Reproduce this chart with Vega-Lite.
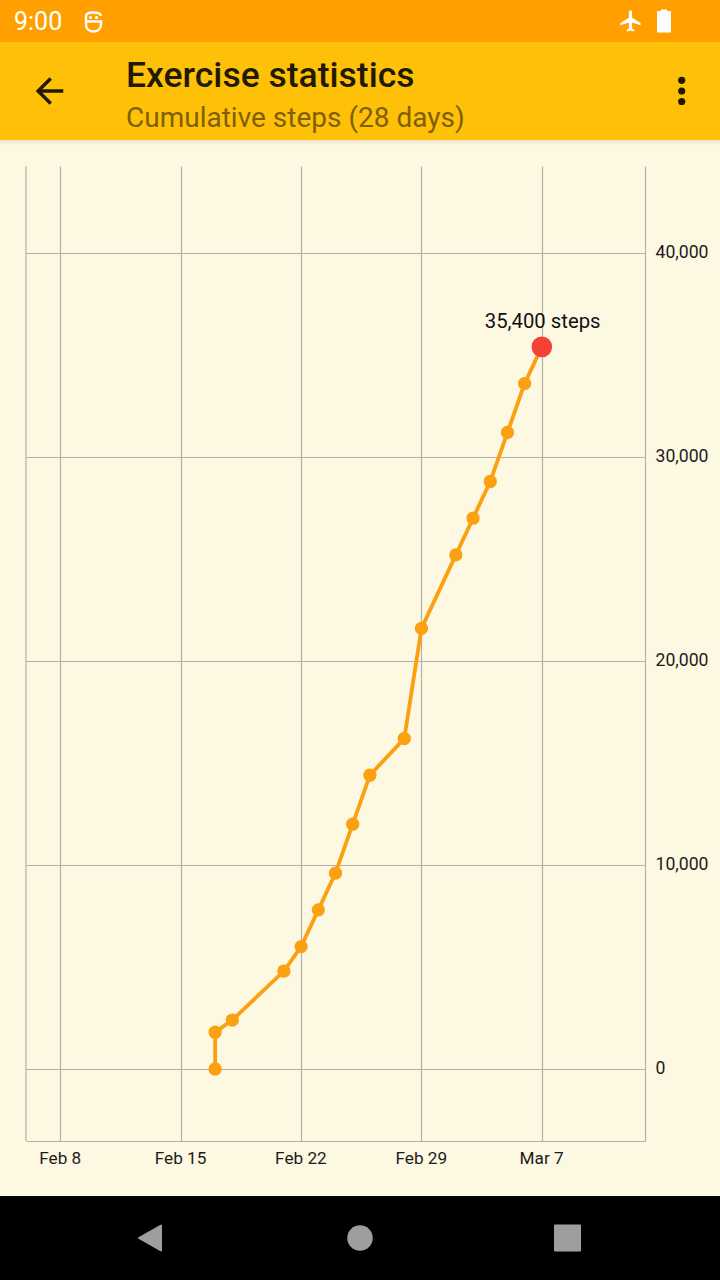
{"$schema":"https://vega.github.io/schema/vega-lite/v6.json","width":619,"height":975,"autosize":"none","padding":{"left":26,"top":166,"right":75,"bottom":139},"background":"#FDF8E1","title":{"text":"Exercise statistics","subtitle":"Cumulative steps (28 days)","anchor":"start","frame":"group","dx":100,"offset":0,"dy":133,"font":"Roboto","fontSize":35.5,"fontWeight":500,"color":"#211902","subtitleFont":"Roboto","subtitleFontSize":28,"subtitleFontWeight":400,"subtitleColor":"#7E5F05","subtitlePadding":11},"config":{"view":{"stroke":null}},"data":{"values":[{"date":"2016-02-17","steps":0},{"date":"2016-02-17","steps":1800},{"date":"2016-02-18","steps":2400},{"date":"2016-02-21","steps":4800},{"date":"2016-02-22","steps":6000},{"date":"2016-02-23","steps":7800},{"date":"2016-02-24","steps":9600},{"date":"2016-02-25","steps":12000},{"date":"2016-02-26","steps":14400},{"date":"2016-02-28","steps":16200},{"date":"2016-02-29","steps":21600},{"date":"2016-03-02","steps":25200},{"date":"2016-03-03","steps":27000},{"date":"2016-03-04","steps":28800},{"date":"2016-03-05","steps":31200},{"date":"2016-03-06","steps":33600},{"date":"2016-03-07","steps":35400,"label":"35,400 steps"}]},"resolve":{"scale":{"x":"independent","y":"independent"}},"layer":[{"data":{"values":[{"part":"chrome"}]},"encoding":{"x":{"datum":0,"type":"quantitative","scale":{"domain":[26,645],"nice":false,"zero":false},"axis":null},"y":{"datum":0,"type":"quantitative","scale":{"domain":[1141,166],"nice":false,"zero":false},"axis":null}},"layer":[{"mark":{"type":"rect","color":"#FFA000","clip":false},"encoding":{"x":{"datum":0,"type":"quantitative"},"x2":{"datum":720},"y":{"datum":0,"type":"quantitative"},"y2":{"datum":42}}},{"mark":{"type":"rect","color":"#FFC107","clip":false},"encoding":{"x":{"datum":0,"type":"quantitative"},"x2":{"datum":720},"y":{"datum":42,"type":"quantitative"},"y2":{"datum":140}}},{"mark":{"type":"rect","clip":false,"color":{"gradient":"linear","x1":0,"y1":0,"x2":0,"y2":1,"stops":[{"offset":0,"color":"#E8E0C8"},{"offset":1,"color":"#FDF8E1"}]}},"encoding":{"x":{"datum":0,"type":"quantitative"},"x2":{"datum":720},"y":{"datum":140,"type":"quantitative"},"y2":{"datum":145}}},{"mark":{"type":"rect","color":"#000000","clip":false},"encoding":{"x":{"datum":0,"type":"quantitative"},"x2":{"datum":720},"y":{"datum":1196,"type":"quantitative"},"y2":{"datum":1280}}},{"mark":{"type":"text","text":"9:00","font":"Roboto","fontSize":25,"align":"left","baseline":"alphabetic","color":"#FFFFFF","clip":false},"encoding":{"x":{"datum":14,"type":"quantitative"},"y":{"datum":30,"type":"quantitative"}}},{"mark":{"type":"point","filled":false,"opacity":1,"clip":false,"stroke":"#FFFFFF","strokeWidth":2.4,"size":4,"shape":"M-7.5 -3.5V-6C-7.5 -8.5 -4 -9.5 0 -9.5C4 -9.5 7.5 -8.5 7.5 -6M-7.5 -0.5H7.5V2C7.5 7 4 9.5 0 9.5C-4 9.5 -7.5 7 -7.5 2V-3.5"},"encoding":{"x":{"datum":93.5,"type":"quantitative"},"y":{"datum":22,"type":"quantitative"}}},{"mark":{"type":"point","filled":true,"opacity":1,"clip":false,"color":"#FFFFFF","size":4,"shape":"M-4.5 -4.5a1.5 1.5 0 1 0 3 0a1.5 1.5 0 1 0 -3 0ZM1.5 -4.5a1.5 1.5 0 1 0 3 0a1.5 1.5 0 1 0 -3 0Z"},"encoding":{"x":{"datum":93.5,"type":"quantitative"},"y":{"datum":22,"type":"quantitative"}}},{"mark":{"type":"point","filled":true,"opacity":1,"clip":false,"color":"#FFFFFF","size":4.5,"shape":"M9.5 4v-2l-8-5V-8.5c0-.83-.67-1.5-1.5-1.5S-1.5 -9.33 -1.5 -8.5V-3l-8 5v2l8-2.5V7l-2 1.5V10l3.5-1 3.5 1V8.5L1.5 7V1.5l8 2.5z"},"encoding":{"x":{"datum":630.5,"type":"quantitative"},"y":{"datum":21,"type":"quantitative"}}},{"mark":{"type":"point","filled":true,"opacity":1,"clip":false,"color":"#FFFFFF","size":4,"shape":"M-3 -11.5H3V-10H7V11.5H-7V-10H-3Z"},"encoding":{"x":{"datum":664,"type":"quantitative"},"y":{"datum":21,"type":"quantitative"}}},{"mark":{"type":"point","filled":true,"opacity":1,"clip":false,"color":"#211902","size":11.9,"shape":"M8 -1H-4.17l5.59-5.59L0 -8l-8 8 8 8 1.41-1.41L-4.17 1H8v-2z"},"encoding":{"x":{"datum":49.5,"type":"quantitative"},"y":{"datum":91,"type":"quantitative"}}},{"mark":{"type":"point","filled":true,"opacity":1,"clip":false,"color":"#211902","size":52,"shape":"circle"},"encoding":{"x":{"datum":681.7,"type":"quantitative"},"y":{"datum":80.3,"type":"quantitative"}}},{"mark":{"type":"point","filled":true,"opacity":1,"clip":false,"color":"#211902","size":52,"shape":"circle"},"encoding":{"x":{"datum":681.7,"type":"quantitative"},"y":{"datum":91,"type":"quantitative"}}},{"mark":{"type":"point","filled":true,"opacity":1,"clip":false,"color":"#211902","size":52,"shape":"circle"},"encoding":{"x":{"datum":681.7,"type":"quantitative"},"y":{"datum":101.5,"type":"quantitative"}}},{"mark":{"type":"point","filled":true,"opacity":1,"clip":false,"color":"#9E9E9E","stroke":"#9E9E9E","strokeWidth":2,"strokeJoin":"round","size":4,"shape":"M11 -12.5V12.5L-11 0Z"},"encoding":{"x":{"datum":150,"type":"quantitative"},"y":{"datum":1238,"type":"quantitative"}}},{"mark":{"type":"point","filled":true,"opacity":1,"clip":false,"color":"#9E9E9E","size":650,"shape":"circle"},"encoding":{"x":{"datum":360,"type":"quantitative"},"y":{"datum":1238,"type":"quantitative"}}},{"mark":{"type":"point","filled":true,"opacity":1,"clip":false,"color":"#9E9E9E","stroke":"#9E9E9E","strokeWidth":2,"strokeJoin":"round","size":625,"shape":"square"},"encoding":{"x":{"datum":567.5,"type":"quantitative"},"y":{"datum":1238,"type":"quantitative"}}}]},{"encoding":{"x":{"field":"date","type":"temporal","scale":{"type":"utc","domain":[{"year":2016,"month":2,"date":6,"utc":true},{"year":2016,"month":3,"date":13,"utc":true}]},"axis":{"orient":"bottom","title":null,"format":"%b %-d","values":[{"year":2016,"month":2,"date":8,"utc":true},{"year":2016,"month":2,"date":15,"utc":true},{"year":2016,"month":2,"date":22,"utc":true},{"year":2016,"month":2,"date":29,"utc":true},{"year":2016,"month":3,"date":7,"utc":true}],"grid":true,"gridColor":"#B3B2A8","gridWidth":1.2,"domain":true,"domainColor":"#B3B2A8","domainWidth":1.2,"ticks":false,"labelFont":"Roboto","labelFontSize":17.2,"labelColor":"#1C1C1C","labelPadding":8,"labelOffset":-0.7,"labelFlush":false,"labelOverlap":false}},"y":{"field":"steps","type":"quantitative","scale":{"domain":[-3530,44265],"nice":false,"zero":false},"axis":{"orient":"right","title":null,"format":",d","values":[0,10000,20000,30000,40000],"grid":true,"gridColor":"#B3B2A8","gridWidth":1.2,"domain":true,"domainColor":"#B3B2A8","domainWidth":1.2,"ticks":false,"labelFont":"Roboto","labelFontSize":17.6,"labelColor":"#1C1C1C","labelPadding":10,"labelOffset":-0.4,"labelFlush":false,"labelOverlap":false}}},"layer":[{"transform":[{"filter":"datum.label"}],"mark":{"type":"rule","color":"#B3B2A8","strokeWidth":1.2},"encoding":{"x":{"datum":{"year":2016,"month":2,"date":6,"utc":true},"type":"temporal"},"y":{"datum":-3530,"type":"quantitative"},"y2":{"datum":44265}}},{"mark":{"type":"line","color":"#FBA010","strokeWidth":3.8},"encoding":{"order":{"field":"steps"}}},{"mark":{"type":"point","filled":true,"opacity":1,"color":"#FBA010","size":177}},{"transform":[{"filter":"datum.label"}],"mark":{"type":"point","filled":true,"opacity":1,"color":"#F44336","size":428}},{"transform":[{"filter":"datum.label"}],"mark":{"type":"text","font":"Roboto","fontSize":20.3,"color":"#111111","dy":-25,"dx":0.8},"encoding":{"text":{"field":"label"}}}]}]}
